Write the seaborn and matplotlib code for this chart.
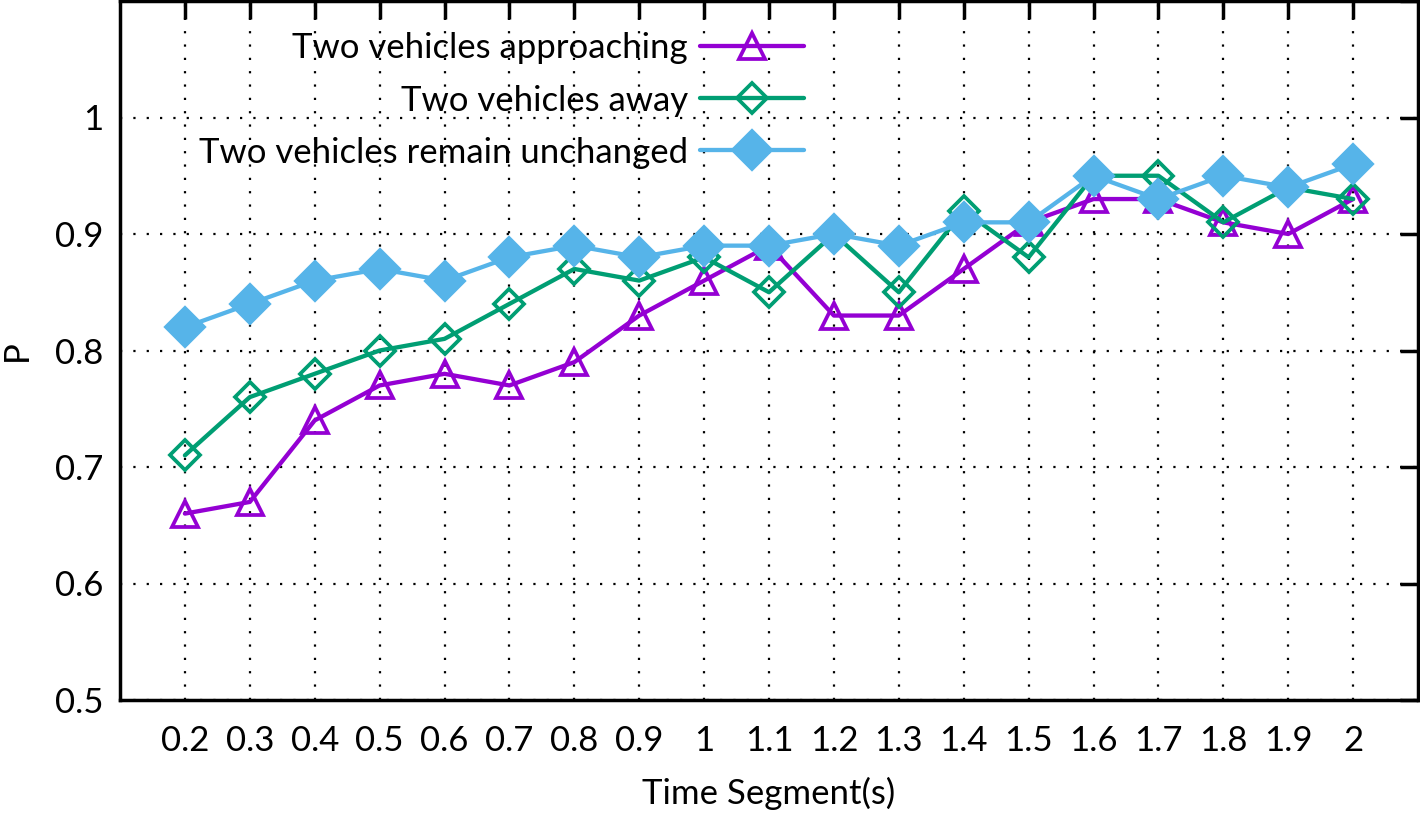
import numpy as np
import pandas as pd
import seaborn as sns
import matplotlib.pyplot as plt

# data
time_segments = [0.2, 0.3, 0.4, 0.5, 0.6, 0.7, 0.8, 0.9, 1.0, 1.1,
                 1.2, 1.3, 1.4, 1.5, 1.6, 1.7, 1.8, 1.9, 2.0]
x_labels = ["0.2", "0.3", "0.4", "0.5", "0.6", "0.7", "0.8", "0.9", "1", "1.1",
            "1.2", "1.3", "1.4", "1.5", "1.6", "1.7", "1.8", "1.9", "2"]
approaching = [0.66, 0.67, 0.74, 0.77, 0.78, 0.77, 0.79, 0.83, 0.86, 0.89,
               0.83, 0.83, 0.87, 0.91, 0.93, 0.93, 0.91, 0.90, 0.93]
away = [0.71, 0.76, 0.78, 0.80, 0.81, 0.84, 0.87, 0.86, 0.88, 0.85,
        0.90, 0.85, 0.92, 0.88, 0.95, 0.95, 0.91, 0.94, 0.93]
unchanged = [0.82, 0.84, 0.86, 0.87, 0.86, 0.88, 0.89, 0.88, 0.89, 0.89,
             0.90, 0.89, 0.91, 0.91, 0.95, 0.93, 0.95, 0.94, 0.96]
y_ticks = [0.5, 0.6, 0.7, 0.8, 0.9, 1.0, 1.1]
y_labels = ["0.5", "0.6", "0.7", "0.8", "0.9", "1", ""]

df = pd.DataFrame({"t": time_segments, "approaching": approaching,
                   "away": away, "unchanged": unchanged})

sns.set_style("white")
plt.rcParams['font.family'] = ['Lato', 'DejaVu Sans']
plt.rcParams['text.color'] = 'black'
plt.rcParams['axes.labelcolor'] = 'black'

fig = plt.figure(figsize=(14.2, 8.16), dpi=100)
ax = fig.add_axes([120 / 1420, 116 / 816, 1298 / 1420, 699 / 816])

# (column, label, colour, marker, face, size)
series = [
    ("approaching", "Two vehicles approaching", "#9400D3", "^", "none", 19),
    ("away", "Two vehicles away", "#009E73", "D", "none", 15),
    ("unchanged", "Two vehicles remain unchanged", "#56B4E9", "D", "#56B4E9", 19),
]
for col, label, color, marker, face, ms in series:
    sns.lineplot(data=df, x="t", y=col, ax=ax, color=color, label=label,
                 marker=marker, markersize=ms, markerfacecolor=face,
                 markeredgecolor=color, markeredgewidth=2.7, linewidth=3.1,
                 zorder=3)

ax.set_xlim(0.1, 2.1)
ax.set_ylim(0.5, 1.1)
ax.set_xticks(time_segments)
ax.set_xticklabels(x_labels)
ax.set_yticks(y_ticks)
ax.set_yticklabels(y_labels)

ax.grid(True, linestyle=(0, (1, 5)), color='black', linewidth=1.6, zorder=0)
ax.tick_params(direction='in', length=13, width=2.5, top=True, right=True,
               labelsize=25, colors='black')
ax.tick_params(axis='x', pad=18)
ax.tick_params(axis='y', pad=12)
for s in ax.spines.values():
    s.set_linewidth(2.5)
    s.set_color('black')

ax.set_xlabel("Time Segment(s)", fontsize=25, labelpad=14)
ax.set_ylabel("P", fontsize=25, labelpad=16)

leg = ax.legend(loc='upper right', bbox_to_anchor=(0.538, 0.975),
                frameon=False, markerfirst=False, fontsize=25,
                handlelength=3.0, handletextpad=0.35, labelspacing=0.58,
                borderaxespad=0)
for t in leg.get_texts():
    t.set_ha('right')

fig.savefig("out.png", dpi=100)
